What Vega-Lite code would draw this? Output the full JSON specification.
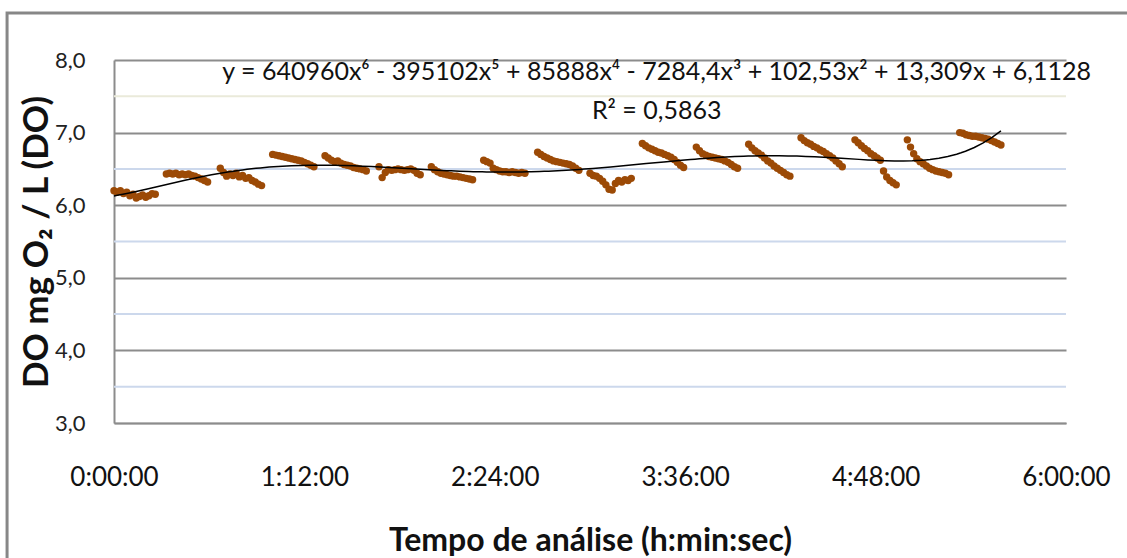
{
  "$schema": "https://vega.github.io/schema/vega-lite/v6.json",
  "width": 952,
  "height": 363,
  "autosize": {"type": "none"},
  "padding": {"left": 114, "top": 60, "right": 61, "bottom": 135},
  "background": "white",
  "config": {"view": {"stroke": null}, "font": "Lato"},
  "data": {
    "values": [
      {"t":0.00,"v":6.20},{"t":0.02,"v":6.18},{"t":0.04,"v":6.20},{"t":0.06,"v":6.16},{"t":0.08,"v":6.18},{"t":0.10,"v":6.13},{"t":0.12,"v":6.15},{"t":0.14,"v":6.10},{"t":0.16,"v":6.12},{"t":0.18,"v":6.14},{"t":0.20,"v":6.11},{"t":0.22,"v":6.13},{"t":0.24,"v":6.16},{"t":0.26,"v":6.15},
      {"t":0.33,"v":6.43},{"t":0.35,"v":6.44},{"t":0.37,"v":6.43},{"t":0.39,"v":6.44},{"t":0.41,"v":6.42},{"t":0.43,"v":6.43},{"t":0.45,"v":6.42},{"t":0.47,"v":6.43},{"t":0.49,"v":6.41},{"t":0.51,"v":6.40},{"t":0.53,"v":6.38},{"t":0.55,"v":6.36},{"t":0.57,"v":6.34},{"t":0.59,"v":6.32},
      {"t":0.67,"v":6.51},{"t":0.69,"v":6.45},{"t":0.71,"v":6.40},{"t":0.73,"v":6.43},{"t":0.75,"v":6.41},{"t":0.77,"v":6.44},{"t":0.79,"v":6.39},{"t":0.81,"v":6.41},{"t":0.83,"v":6.37},{"t":0.85,"v":6.38},{"t":0.87,"v":6.34},{"t":0.89,"v":6.32},{"t":0.91,"v":6.29},{"t":0.93,"v":6.27},
      {"t":1.00,"v":6.70},{"t":1.02,"v":6.69},{"t":1.04,"v":6.68},{"t":1.06,"v":6.67},{"t":1.08,"v":6.66},{"t":1.10,"v":6.65},{"t":1.12,"v":6.64},{"t":1.14,"v":6.63},{"t":1.16,"v":6.62},{"t":1.18,"v":6.61},{"t":1.20,"v":6.59},{"t":1.22,"v":6.57},{"t":1.24,"v":6.55},{"t":1.26,"v":6.53},
      {"t":1.33,"v":6.68},{"t":1.35,"v":6.65},{"t":1.37,"v":6.62},{"t":1.39,"v":6.60},{"t":1.41,"v":6.61},{"t":1.43,"v":6.58},{"t":1.45,"v":6.56},{"t":1.47,"v":6.55},{"t":1.49,"v":6.54},{"t":1.51,"v":6.52},{"t":1.53,"v":6.51},{"t":1.55,"v":6.50},{"t":1.57,"v":6.49},{"t":1.59,"v":6.47},
      {"t":1.67,"v":6.53},{"t":1.69,"v":6.38},{"t":1.71,"v":6.45},{"t":1.73,"v":6.49},{"t":1.75,"v":6.48},{"t":1.77,"v":6.49},{"t":1.79,"v":6.50},{"t":1.81,"v":6.49},{"t":1.83,"v":6.48},{"t":1.85,"v":6.49},{"t":1.87,"v":6.50},{"t":1.89,"v":6.48},{"t":1.91,"v":6.44},{"t":1.93,"v":6.42},
      {"t":2.00,"v":6.53},{"t":2.02,"v":6.49},{"t":2.04,"v":6.46},{"t":2.06,"v":6.44},{"t":2.08,"v":6.43},{"t":2.10,"v":6.42},{"t":2.12,"v":6.41},{"t":2.14,"v":6.40},{"t":2.16,"v":6.40},{"t":2.18,"v":6.39},{"t":2.20,"v":6.38},{"t":2.22,"v":6.37},{"t":2.24,"v":6.36},{"t":2.26,"v":6.35},
      {"t":2.33,"v":6.62},{"t":2.35,"v":6.60},{"t":2.37,"v":6.58},{"t":2.39,"v":6.51},{"t":2.41,"v":6.49},{"t":2.43,"v":6.47},{"t":2.45,"v":6.46},{"t":2.47,"v":6.46},{"t":2.49,"v":6.45},{"t":2.51,"v":6.46},{"t":2.53,"v":6.45},{"t":2.55,"v":6.44},{"t":2.57,"v":6.45},{"t":2.59,"v":6.44},
      {"t":2.67,"v":6.73},{"t":2.69,"v":6.70},{"t":2.71,"v":6.67},{"t":2.73,"v":6.65},{"t":2.75,"v":6.63},{"t":2.77,"v":6.61},{"t":2.79,"v":6.60},{"t":2.81,"v":6.59},{"t":2.83,"v":6.58},{"t":2.85,"v":6.57},{"t":2.87,"v":6.56},{"t":2.89,"v":6.54},{"t":2.91,"v":6.51},{"t":2.93,"v":6.48},
      {"t":3.00,"v":6.44},{"t":3.02,"v":6.41},{"t":3.04,"v":6.40},{"t":3.06,"v":6.37},{"t":3.08,"v":6.33},{"t":3.10,"v":6.28},{"t":3.12,"v":6.22},{"t":3.14,"v":6.21},{"t":3.16,"v":6.30},{"t":3.18,"v":6.34},{"t":3.20,"v":6.32},{"t":3.22,"v":6.35},{"t":3.24,"v":6.34},{"t":3.26,"v":6.37},
      {"t":3.33,"v":6.85},{"t":3.35,"v":6.82},{"t":3.37,"v":6.79},{"t":3.39,"v":6.77},{"t":3.41,"v":6.75},{"t":3.43,"v":6.73},{"t":3.45,"v":6.72},{"t":3.47,"v":6.70},{"t":3.49,"v":6.68},{"t":3.51,"v":6.66},{"t":3.53,"v":6.63},{"t":3.55,"v":6.59},{"t":3.57,"v":6.55},{"t":3.59,"v":6.52},
      {"t":3.67,"v":6.80},{"t":3.69,"v":6.75},{"t":3.71,"v":6.71},{"t":3.73,"v":6.69},{"t":3.75,"v":6.67},{"t":3.77,"v":6.66},{"t":3.79,"v":6.65},{"t":3.81,"v":6.64},{"t":3.83,"v":6.63},{"t":3.85,"v":6.61},{"t":3.87,"v":6.59},{"t":3.89,"v":6.56},{"t":3.91,"v":6.53},{"t":3.93,"v":6.51},
      {"t":4.00,"v":6.84},{"t":4.02,"v":6.79},{"t":4.04,"v":6.75},{"t":4.06,"v":6.72},{"t":4.08,"v":6.69},{"t":4.10,"v":6.65},{"t":4.12,"v":6.61},{"t":4.14,"v":6.58},{"t":4.16,"v":6.54},{"t":4.18,"v":6.51},{"t":4.20,"v":6.48},{"t":4.22,"v":6.45},{"t":4.24,"v":6.42},{"t":4.26,"v":6.40},
      {"t":4.33,"v":6.93},{"t":4.35,"v":6.89},{"t":4.37,"v":6.86},{"t":4.39,"v":6.84},{"t":4.41,"v":6.81},{"t":4.43,"v":6.79},{"t":4.45,"v":6.76},{"t":4.47,"v":6.74},{"t":4.49,"v":6.71},{"t":4.51,"v":6.68},{"t":4.53,"v":6.65},{"t":4.55,"v":6.61},{"t":4.57,"v":6.57},{"t":4.59,"v":6.53},
      {"t":4.67,"v":6.90},{"t":4.69,"v":6.86},{"t":4.71,"v":6.82},{"t":4.73,"v":6.78},{"t":4.75,"v":6.75},{"t":4.77,"v":6.71},{"t":4.79,"v":6.68},{"t":4.81,"v":6.65},{"t":4.83,"v":6.62},{"t":4.85,"v":6.47},{"t":4.87,"v":6.39},{"t":4.89,"v":6.34},{"t":4.91,"v":6.31},{"t":4.93,"v":6.28},
      {"t":5.00,"v":6.90},{"t":5.02,"v":6.80},{"t":5.04,"v":6.71},{"t":5.06,"v":6.64},{"t":5.08,"v":6.60},{"t":5.10,"v":6.57},{"t":5.12,"v":6.54},{"t":5.14,"v":6.51},{"t":5.16,"v":6.49},{"t":5.18,"v":6.47},{"t":5.20,"v":6.46},{"t":5.22,"v":6.45},{"t":5.24,"v":6.44},{"t":5.26,"v":6.42},
      {"t":5.33,"v":7.00},{"t":5.35,"v":6.99},{"t":5.37,"v":6.97},{"t":5.39,"v":6.96},{"t":5.41,"v":6.95},{"t":5.43,"v":6.95},{"t":5.45,"v":6.94},{"t":5.47,"v":6.93},{"t":5.49,"v":6.92},{"t":5.51,"v":6.91},{"t":5.53,"v":6.89},{"t":5.55,"v":6.87},{"t":5.57,"v":6.85},{"t":5.59,"v":6.83}
    ]
  },
  "layer": [
    {
      "data": {"values": [{"g": 3.5, "c": "b"}, {"g": 4.5, "c": "b"}, {"g": 5.5, "c": "b"}, {"g": 6.5, "c": "b"}, {"g": 7.5, "c": "y"}]},
      "mark": {"type": "rule", "strokeWidth": 2},
      "encoding": {
        "y": {"field": "g", "type": "quantitative"},
        "color": {"field": "c", "type": "nominal", "scale": {"domain": ["b", "y"], "range": ["#CCD8EC", "#EAEADA"]}, "legend": null}
      }
    },
    {
      "mark": {"type": "circle", "size": 55, "opacity": 1, "color": "#9C4A06"},
      "encoding": {
        "x": {
          "field": "t",
          "type": "quantitative",
          "scale": {"domain": [0, 6], "nice": false, "zero": false},
          "axis": {
            "title": "Tempo de análise (h:min:sec)",
            "values": [0, 1.2, 2.4, 3.6, 4.8, 6],
            "labelExpr": "floor(datum.value) + ':' + format(round((datum.value % 1) * 60), '02d') + ':00'",
            "grid": false,
            "ticks": false,
            "domainColor": "#8C8C8C",
            "domainWidth": 1.5,
            "labelFont": "Lato",
            "labelFontSize": 26,
            "labelColor": "#111111",
            "labelFlush": false,
            "labelPadding": 41,
            "titleFont": "Lato",
            "titleFontSize": 32,
            "titleFontWeight": "bold",
            "titleColor": "#111111",
            "titlePadding": 35
          }
        },
        "y": {
          "field": "v",
          "type": "quantitative",
          "scale": {"domain": [3, 8], "nice": false, "zero": false},
          "axis": {
            "title": "DO mg O₂ / L (DO)",
            "values": [3, 4, 5, 6, 7, 8],
            "labelExpr": "replace(format(datum.value, '.1f'), '.', ',')",
            "grid": true,
            "gridColor": "#8C8C8C",
            "gridWidth": 2,
            "ticks": false,
            "domainColor": "#8C8C8C",
            "domainWidth": 2,
            "labelFont": "Lato",
            "labelFontSize": 22,
            "labelColor": "#222222",
            "labelFlush": false,
            "labelOverlap": false,
            "labelPadding": 29,
            "titleFont": "Lato",
            "titleFontSize": 35,
            "titleFontWeight": "bold",
            "titleColor": "#111111",
            "titlePadding": 0
          }
        }
      }
    },
    {
      "transform": [{"regression": "v", "on": "t", "method": "poly", "order": 6}],
      "mark": {"type": "line", "color": "#000000", "strokeWidth": 1.5},
      "encoding": {
        "x": {"field": "t", "type": "quantitative"},
        "y": {"field": "v", "type": "quantitative"}
      }
    },
    {
      "data": {
        "values": [
          {"t": 3.42, "v": 7.835, "label": "y = 640960x⁶ - 395102x⁵ + 85888x⁴ - 7284,4x³ + 102,53x² + 13,309x + 6,1128"},
          {"t": 3.42, "v": 7.30, "label": "R² = 0,5863"}
        ]
      },
      "mark": {"type": "text", "align": "center", "baseline": "middle", "font": "Lato", "fontSize": 25, "color": "#111111"},
      "encoding": {
        "x": {"field": "t", "type": "quantitative"},
        "y": {"field": "v", "type": "quantitative"},
        "text": {"field": "label"}
      }
    },
    {
      "data": {"values": [{"x0": -0.674, "x1": 7.5, "y0": 8.647, "y1": 0.5}]},
      "mark": {"type": "rect", "fill": null, "stroke": "#878787", "strokeWidth": 3, "clip": false},
      "encoding": {
        "x": {"field": "x0", "type": "quantitative"},
        "x2": {"field": "x1"},
        "y": {"field": "y0", "type": "quantitative"},
        "y2": {"field": "y1"}
      }
    }
  ]
}
